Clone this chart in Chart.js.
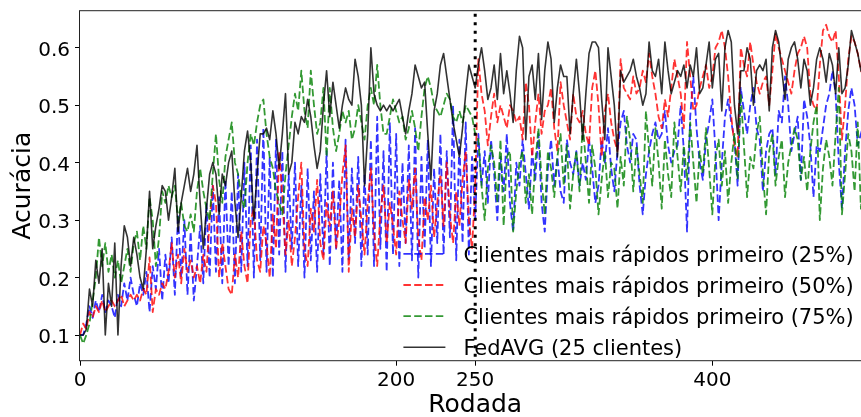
<!DOCTYPE html>
<html>
<head>
<meta charset="utf-8">
<script src="https://cdn.jsdelivr.net/npm/chart.js@4"></script>
<style>
  html, body { margin: 0; padding: 0; background: #fff; overflow: hidden; }
  #wrap { width: 872px; height: 417px; }
</style>
</head>
<body>
<div id="wrap"><canvas id="accChart" width="872" height="417"></canvas></div>
<script>
// one value every 2 rounds
const roundStep = 2;

// Clientes mais rapidos primeiro (25%) - blue
const acc25 = [
  0.10, 0.10, 0.12, 0.15, 0.13, 0.16, 0.14, 0.17, 0.14, 0.16,
  0.15, 0.13, 0.17, 0.15, 0.19, 0.16, 0.20, 0.17, 0.15, 0.19,
  0.17, 0.21, 0.14, 0.22, 0.18, 0.25, 0.16, 0.24, 0.19, 0.27,
  0.17, 0.31, 0.20, 0.30, 0.17, 0.28, 0.16, 0.22, 0.29, 0.19,
  0.33, 0.20, 0.36, 0.21, 0.34, 0.19, 0.37, 0.22, 0.35, 0.19,
  0.38, 0.21, 0.40, 0.22, 0.43, 0.20, 0.44, 0.23, 0.46, 0.21,
  0.41, 0.20, 0.44, 0.24, 0.42, 0.21, 0.38, 0.25, 0.40, 0.22,
  0.36, 0.20, 0.39, 0.23, 0.35, 0.21, 0.38, 0.24, 0.42, 0.22,
  0.40, 0.25, 0.37, 0.21, 0.44, 0.23, 0.39, 0.26, 0.41, 0.22,
  0.38, 0.24, 0.44, 0.22, 0.48, 0.25, 0.42, 0.21, 0.47, 0.24,
  0.45, 0.22, 0.40, 0.26, 0.43, 0.23, 0.46, 0.20, 0.41, 0.25,
  0.44, 0.22, 0.39, 0.26, 0.45, 0.24, 0.42, 0.27, 0.50, 0.23,
  0.44, 0.26, 0.47, 0.24, 0.41, 0.30,
  0.45, 0.36, 0.42, 0.33, 0.44, 0.38, 0.30, 0.41, 0.35, 0.45,
  0.33, 0.28, 0.40, 0.36, 0.44, 0.38, 0.32, 0.42, 0.37, 0.45,
  0.33, 0.28, 0.39, 0.44, 0.36, 0.41, 0.35, 0.33, 0.44, 0.40,
  0.38, 0.42, 0.36, 0.40, 0.37, 0.44, 0.39, 0.33, 0.36, 0.44,
  0.40, 0.46, 0.39, 0.35, 0.42, 0.47, 0.49, 0.43, 0.40, 0.45,
  0.44, 0.36, 0.31, 0.38, 0.42, 0.45, 0.47, 0.44, 0.45, 0.49,
  0.43, 0.40, 0.42, 0.43, 0.50, 0.42, 0.28, 0.48, 0.55, 0.46,
  0.40, 0.37, 0.44, 0.47, 0.51, 0.42, 0.30, 0.40, 0.48, 0.51,
  0.47, 0.44, 0.36, 0.53, 0.49, 0.45, 0.50, 0.53, 0.46, 0.44,
  0.35, 0.42, 0.45, 0.46, 0.38, 0.49, 0.47, 0.55, 0.50, 0.42,
  0.45, 0.48, 0.37, 0.51, 0.48, 0.43, 0.34, 0.43, 0.42, 0.46,
  0.50, 0.52, 0.56, 0.52, 0.40, 0.32, 0.42, 0.49, 0.53, 0.50,
  0.43, 0.45, 0.47, 0.44
];

// Clientes mais rapidos primeiro (50%) - red
const acc50 = [
  0.10, 0.12, 0.11, 0.14, 0.13, 0.15, 0.14, 0.16, 0.14, 0.15,
  0.16, 0.15, 0.16, 0.17, 0.15, 0.16, 0.17, 0.16, 0.17, 0.16,
  0.18, 0.17, 0.235, 0.14, 0.18, 0.17, 0.19, 0.18, 0.21, 0.26,
  0.20, 0.24, 0.19, 0.25, 0.21, 0.23, 0.20, 0.22, 0.19, 0.24,
  0.21, 0.30, 0.36, 0.33, 0.20, 0.26, 0.22, 0.18, 0.17, 0.24,
  0.20, 0.28, 0.22, 0.19, 0.30, 0.32, 0.23, 0.21, 0.29, 0.26,
  0.20, 0.31, 0.25, 0.42, 0.34, 0.24, 0.30, 0.22, 0.27, 0.34,
  0.40, 0.25, 0.22, 0.32, 0.28, 0.37, 0.26, 0.23, 0.33, 0.29,
  0.35, 0.25, 0.30, 0.38, 0.43, 0.21, 0.32, 0.27, 0.36, 0.30,
  0.24, 0.33, 0.39, 0.28, 0.22, 0.31, 0.36, 0.26, 0.33, 0.29,
  0.24, 0.35, 0.30, 0.26, 0.37, 0.32, 0.39, 0.27, 0.23, 0.34,
  0.30, 0.36, 0.27, 0.33, 0.38, 0.29, 0.40, 0.31, 0.26, 0.35,
  0.29, 0.37, 0.42, 0.30, 0.25, 0.36,
  0.58, 0.52, 0.49, 0.43, 0.48, 0.52, 0.47, 0.50, 0.48, 0.46,
  0.50, 0.49, 0.47, 0.48, 0.44, 0.54, 0.50, 0.41, 0.47, 0.52,
  0.45, 0.49, 0.50, 0.53, 0.46, 0.42, 0.54, 0.50, 0.47, 0.44,
  0.52, 0.48, 0.47, 0.49, 0.45, 0.43, 0.53, 0.56, 0.50, 0.41,
  0.49, 0.52, 0.47, 0.44, 0.42, 0.58, 0.53, 0.52, 0.51, 0.55,
  0.52, 0.53, 0.56, 0.54, 0.59, 0.55, 0.52, 0.48, 0.46, 0.51,
  0.48, 0.53, 0.58, 0.55, 0.52, 0.46, 0.61, 0.55, 0.49, 0.50,
  0.53, 0.55, 0.57, 0.53, 0.55, 0.60, 0.61, 0.63, 0.60, 0.55,
  0.48, 0.43, 0.41, 0.60, 0.57, 0.55, 0.61, 0.57, 0.54, 0.52,
  0.54, 0.55, 0.50, 0.56, 0.625, 0.60, 0.58, 0.56, 0.54, 0.52,
  0.56, 0.59, 0.60, 0.62, 0.60, 0.52, 0.50, 0.49, 0.57, 0.63,
  0.64, 0.62, 0.61, 0.63, 0.55, 0.44, 0.50, 0.58, 0.62, 0.61,
  0.59, 0.56, 0.55, 0.57
];

// Clientes mais rapidos primeiro (75%) - green
const acc75 = [
  0.10, 0.085, 0.10, 0.12, 0.16, 0.20, 0.27, 0.22, 0.26, 0.21,
  0.24, 0.20, 0.23, 0.19, 0.22, 0.25, 0.21, 0.26, 0.28, 0.23,
  0.29, 0.25, 0.34, 0.30, 0.22, 0.27, 0.35, 0.33, 0.36, 0.34,
  0.36, 0.30, 0.33, 0.29, 0.28, 0.31, 0.28, 0.35, 0.39, 0.35,
  0.32, 0.30, 0.38, 0.45, 0.37, 0.33, 0.41, 0.44, 0.47, 0.40,
  0.38, 0.34, 0.32, 0.40, 0.45, 0.43, 0.47, 0.50, 0.51, 0.45,
  0.41, 0.39, 0.35, 0.33, 0.31, 0.38, 0.43, 0.48, 0.52, 0.49,
  0.56, 0.49, 0.46, 0.56, 0.50, 0.45, 0.47, 0.53, 0.41, 0.53,
  0.46, 0.42, 0.45, 0.49, 0.47, 0.49, 0.44, 0.46, 0.50, 0.47,
  0.44, 0.50, 0.53, 0.50, 0.57, 0.50, 0.45, 0.45, 0.48, 0.51,
  0.49, 0.47, 0.48, 0.44, 0.46, 0.49, 0.46, 0.42, 0.48, 0.53,
  0.55, 0.53, 0.50, 0.49, 0.48, 0.50, 0.52, 0.51, 0.48, 0.47,
  0.49, 0.47, 0.50, 0.49, 0.48, 0.45,
  0.44, 0.36, 0.30, 0.39, 0.43, 0.40, 0.33, 0.44, 0.29, 0.41,
  0.42, 0.28, 0.35, 0.40, 0.42, 0.33, 0.38, 0.31, 0.40, 0.46,
  0.37, 0.31, 0.42, 0.39, 0.34, 0.41, 0.45, 0.36, 0.43, 0.32,
  0.38, 0.42, 0.35, 0.47, 0.40, 0.33, 0.43, 0.39, 0.31, 0.37,
  0.42, 0.34, 0.40, 0.39, 0.32, 0.41, 0.36, 0.48, 0.44, 0.35,
  0.43, 0.38, 0.33, 0.49, 0.42, 0.36, 0.46, 0.40, 0.32, 0.44,
  0.38, 0.34, 0.47, 0.41, 0.35, 0.43, 0.37, 0.47, 0.40, 0.33,
  0.42, 0.38, 0.46, 0.39, 0.31, 0.41, 0.44, 0.36, 0.42, 0.33,
  0.40, 0.45, 0.37, 0.52, 0.43, 0.34, 0.41, 0.39, 0.45, 0.48,
  0.38, 0.31, 0.42, 0.45, 0.36, 0.41, 0.44, 0.34, 0.40, 0.43,
  0.46, 0.44, 0.37, 0.41, 0.35, 0.42, 0.47, 0.50, 0.30, 0.39,
  0.44, 0.41, 0.36, 0.45, 0.53, 0.31, 0.38, 0.45, 0.42, 0.35,
  0.47, 0.32, 0.40, 0.44
];

// FedAVG (25 clientes) - black
const accFedAvg = [
  0.10, 0.10, 0.11, 0.18, 0.15, 0.23, 0.19, 0.25, 0.10, 0.19,
  0.15, 0.26, 0.10, 0.22, 0.29, 0.27, 0.22, 0.27, 0.24, 0.20,
  0.18, 0.25, 0.35, 0.25, 0.29, 0.32, 0.36, 0.35, 0.30, 0.34,
  0.39, 0.28, 0.33, 0.36, 0.39, 0.35, 0.38, 0.43, 0.33, 0.25,
  0.32, 0.38, 0.40, 0.38, 0.31, 0.38, 0.36, 0.40, 0.42, 0.33,
  0.27, 0.34, 0.42, 0.455, 0.40, 0.30, 0.38,
  0.45, 0.45, 0.46, 0.44, 0.49, 0.45, 0.39, 0.45, 0.52, 0.38,
  0.40, 0.47, 0.45, 0.48, 0.47, 0.51, 0.48, 0.43, 0.39, 0.42,
  0.50, 0.56, 0.48, 0.54, 0.50, 0.46, 0.50, 0.53, 0.51, 0.50,
  0.58, 0.55, 0.50, 0.36, 0.45, 0.60, 0.52, 0.50, 0.49, 0.50,
  0.49, 0.50, 0.49, 0.50, 0.51, 0.48, 0.45, 0.49, 0.52, 0.57,
  0.55, 0.53, 0.54, 0.45, 0.37, 0.49, 0.52, 0.57, 0.59, 0.55,
  0.51, 0.47, 0.44, 0.41, 0.46, 0.52, 0.57, 0.55, 0.53,
  0.57, 0.60, 0.56, 0.51, 0.53, 0.57, 0.51, 0.59, 0.52, 0.56,
  0.52, 0.47, 0.56, 0.62, 0.60, 0.44, 0.55, 0.57, 0.51, 0.59,
  0.475, 0.56, 0.61, 0.58, 0.47, 0.53, 0.57, 0.55, 0.55, 0.45,
  0.52, 0.58, 0.52, 0.44, 0.52, 0.59, 0.61, 0.61, 0.60, 0.51,
  0.44, 0.60, 0.55, 0.50, 0.41, 0.56, 0.54, 0.55, 0.56, 0.58,
  0.55, 0.53, 0.50, 0.52, 0.61, 0.56, 0.55, 0.58, 0.52, 0.61,
  0.56, 0.52, 0.54, 0.56,
  0.55, 0.57, 0.53, 0.57, 0.55, 0.60, 0.52, 0.53, 0.57, 0.61,
  0.53, 0.58, 0.59, 0.49, 0.60, 0.63, 0.61, 0.50, 0.45, 0.56,
  0.56, 0.60, 0.58, 0.50, 0.56, 0.57, 0.56, 0.58, 0.49, 0.60,
  0.63, 0.61, 0.56, 0.51, 0.58, 0.60, 0.61, 0.58, 0.53, 0.58,
  0.56, 0.50, 0.53, 0.58, 0.60, 0.58, 0.54, 0.59, 0.57, 0.52,
  0.60, 0.52, 0.53, 0.57, 0.63, 0.61, 0.59, 0.56, 0.55, 0.55
];

const seriesLabels = [
  "Clientes mais rápidos primeiro (25%)",
  "Clientes mais rápidos primeiro (50%)",
  "Clientes mais rápidos primeiro (75%)",
  "FedAVG (25 clientes)"
];
const xTicks = [0, 200, 250, 400];
const yTicks = [0.1, 0.2, 0.3, 0.4, 0.5, 0.6];
const splitRound = 250;

const fontFamily = "'DejaVu Sans', sans-serif";
const rounds = acc25.map((v, i) => i * roundStep);

function toPoints(values) {
  return values.map((v, i) => ({ x: rounds[i], y: v }));
}

const dashed = [7.5, 3.3];
const styles = [
  { color: "rgba(0, 0, 255, 0.8)", dash: dashed, width: 1.8 },
  { color: "rgba(255, 0, 0, 0.8)", dash: dashed, width: 1.8 },
  { color: "rgba(0, 128, 0, 0.8)", dash: dashed, width: 1.8 },
  { color: "rgba(0, 0, 0, 0.8)", dash: [], width: 1.6 }
];
const allSeries = [acc25, acc50, acc75, accFedAvg];

// split line, frame and a legend without box like the original
const overlay = {
  id: "overlay",
  afterDatasetsDraw(chart) {
    const { ctx, chartArea: a, scales } = chart;
    ctx.save();

    const sx = scales.x.getPixelForValue(splitRound);
    ctx.strokeStyle = "#000";
    ctx.lineWidth = 3;
    ctx.setLineDash([3, 5.5]);
    ctx.beginPath();
    ctx.moveTo(sx, a.top + 3);
    ctx.lineTo(sx, a.bottom);
    ctx.stroke();

    ctx.setLineDash([]);
    ctx.lineWidth = 1;
    ctx.strokeStyle = "#222";
    ctx.strokeRect(a.left - 0.5, a.top, a.right - a.left, a.bottom - a.top);

    ctx.font = "21px " + fontFamily;
    ctx.textBaseline = "alphabetic";
    ctx.fillStyle = "#000";
    const hx = a.right - 467;
    seriesLabels.forEach((label, i) => {
      const base = a.bottom - 5.5 - (3 - i) * 31.1;
      const st = styles[i];
      ctx.strokeStyle = st.color;
      ctx.lineWidth = st.width;
      ctx.setLineDash(st.dash);
      ctx.beginPath();
      ctx.moveTo(hx, base - 8);
      ctx.lineTo(hx + 42, base - 8);
      ctx.stroke();
      ctx.setLineDash([]);
      ctx.fillText(label, hx + 60, base);
    });
    ctx.restore();
  }
};

new Chart(document.getElementById("accChart"), {
  type: "line",
  data: {
    datasets: allSeries.map((values, i) => ({
      label: seriesLabels[i],
      data: toPoints(values),
      borderColor: styles[i].color,
      borderDash: styles[i].dash,
      borderWidth: styles[i].width,
      borderJoinStyle: "round",
      pointRadius: 0,
      tension: 0,
      fill: false,
      order: 4 - i
    }))
  },
  options: {
    responsive: false,
    devicePixelRatio: 1,
    animation: false,
    layout: { padding: { top: 10.7, right: 1.6, bottom: 0, left: 0 } },
    plugins: { legend: { display: false }, tooltip: { enabled: false } },
    scales: {
      x: {
        type: "linear",
        min: 0,
        max: 500,
        afterBuildTicks: (s) => { s.ticks = xTicks.map((v) => ({ value: v })); },
        afterFit: (s) => { s.height = 56.3; s.paddingLeft = 0; s.paddingRight = 0; },
        border: { display: false },
        grid: { drawOnChartArea: false, tickLength: 5, tickColor: "#000", tickWidth: 1 },
        ticks: { color: "#000", font: { family: fontFamily, size: 20 }, padding: 3, maxRotation: 0, autoSkip: false },
        title: { display: true, text: "Rodada", color: "#000", font: { family: fontFamily, size: 25, lineHeight: 0.9 }, padding: { top: 0, bottom: 0 } }
      },
      y: {
        type: "linear",
        min: 0.0553,
        max: 0.6644,
        afterBuildTicks: (s) => { s.ticks = yTicks.map((v) => ({ value: v })); },
        afterFit: (s) => { s.width = 80; s.paddingTop = 0; s.paddingBottom = 0; },
        border: { display: false },
        grid: { drawOnChartArea: false, tickLength: 5, tickColor: "#000", tickWidth: 1 },
        ticks: { color: "#000", font: { family: fontFamily, size: 20 }, padding: 5, labelOffset: 3, callback: (v) => v.toFixed(1) },
        title: { display: true, text: "Acurácia", color: "#000", font: { family: fontFamily, size: 25, lineHeight: 0.9 }, padding: { top: 12.7, bottom: 0 } }
      }
    }
  },
  plugins: [overlay]
});
</script>
</body>
</html>
